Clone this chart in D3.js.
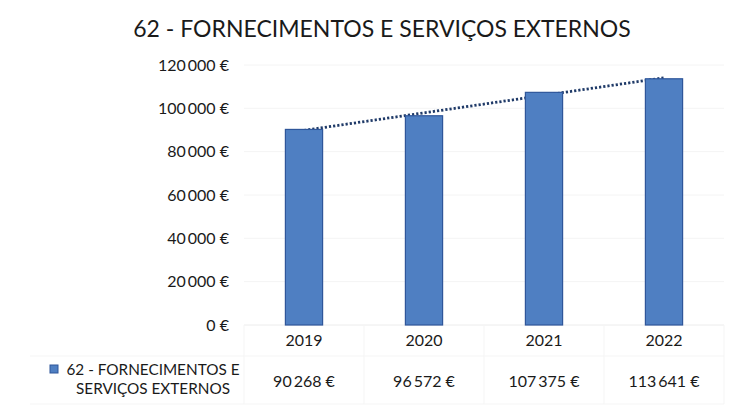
<html>
  <meta charset="utf-8">
  <head>
  <style>
    body { margin: 0; background: #fff; }
    svg text { font-family: Lato, "Open Sans", sans-serif; fill: #1a1a1a; }
  </style>
  </head>
  <body>
    <div id="chart"></div>
    <script src="https://d3js.org/d3.v7.min.js"></script>
    <script>
    'use strict';

    var title = '62 - FORNECIMENTOS E SERVIÇOS EXTERNOS';
    var seriesName = ['62 - FORNECIMENTOS E', 'SERVIÇOS EXTERNOS'];
    var years = ['2019', '2020', '2021', '2022'];
    var values = [90268, 96572, 107375, 113641];
    var yTicks = [0, 20000, 40000, 60000, 80000, 100000, 120000];

    var W = 741, H = 412;
    var svg = d3.select('#chart').append('svg').attr('width', W).attr('height', H);

    var x = d3.scaleBand().domain(years).range([244, 724]).paddingInner(0.69).paddingOuter(0.345);
    var y = d3.scaleLinear().domain([0, 120000]).range([325, 65]);

    function euro(v) {
      return d3.format(',')(v).replace(/,/g, '\u2009') + '\u00a0€';
    }

    svg.append('text')
      .attr('x', 382).attr('y', 37)
      .attr('text-anchor', 'middle')
      .style('font-size', '23px')
      .text(title);

    // faint gridlines
    svg.append('g').selectAll('line').data(yTicks.slice(1)).enter().append('line')
      .attr('x1', 244).attr('x2', 724)
      .attr('y1', function(d) { return y(d); }).attr('y2', function(d) { return y(d); })
      .attr('stroke', '#f4f4f4');

    // y axis labels
    var yAxis = d3.axisLeft(y).tickValues(yTicks).tickFormat(euro).tickSize(0).tickPadding(0);
    var ga = svg.append('g').attr('transform', 'translate(229,0)').call(yAxis);
    ga.select('.domain').remove();
    ga.selectAll('text').style('font-size', '16px').style('font-family', 'Lato, sans-serif').attr('fill', '#1a1a1a');

    // data table lines (very faint)
    var tbl = svg.append('g').attr('stroke', '#f5f5f5');
    tbl.append('line').attr('x1', 244).attr('x2', 724).attr('y1', 325).attr('y2', 325).attr('stroke', '#ececec');
    tbl.append('line').attr('x1', 30).attr('x2', 724).attr('y1', 356).attr('y2', 356);
    tbl.append('line').attr('x1', 30).attr('x2', 724).attr('y1', 404).attr('y2', 404);
    years.forEach(function(d) {
      tbl.append('line').attr('x1', x(d) + x.bandwidth() / 2 + 60).attr('x2', x(d) + x.bandwidth() / 2 + 60)
        .attr('y1', 325).attr('y2', 404);
    });
    tbl.append('line').attr('x1', 244).attr('x2', 244).attr('y1', 325).attr('y2', 404);

    // linear trendline (behind the bars)
    var n = values.length;
    var mx = (n + 1) / 2, my = d3.mean(values);
    var slope = d3.sum(values, function(v, i) { return (i + 1 - mx) * (v - my); }) /
                d3.sum(values, function(v, i) { return (i + 1 - mx) * (i + 1 - mx); });
    var trend = years.map(function(d, i) { return [x(d) + x.bandwidth() / 2, y(my + slope * (i + 1 - mx))]; });
    svg.append('path')
      .attr('d', d3.line()([trend[0], trend[n - 1]]))
      .attr('fill', 'none')
      .attr('stroke', '#1f3a68')
      .attr('stroke-width', 2.8)
      .attr('stroke-dasharray', '2.2,2');

    // bars
    svg.append('g').selectAll('rect').data(values).enter().append('rect')
      .attr('x', function(d, i) { return x(years[i]); })
      .attr('width', x.bandwidth())
      .attr('y', function(d) { return y(d); })
      .attr('height', function(d) { return y(0) - y(d); })
      .attr('fill', '#4f7fc2')
      .attr('stroke', '#2f569a')
      .attr('stroke-width', 1.2);

    // category labels
    svg.append('g').selectAll('text').data(years).enter().append('text')
      .attr('x', function(d) { return x(d) + x.bandwidth() / 2; })
      .attr('y', 346)
      .attr('text-anchor', 'middle')
      .style('font-size', '16px')
      .text(function(d) { return d; });

    // data table values
    svg.append('g').selectAll('text').data(values).enter().append('text')
      .attr('x', function(d, i) { return x(years[i]) + x.bandwidth() / 2; })
      .attr('y', 387)
      .attr('text-anchor', 'middle')
      .style('font-size', '16px')
      .text(euro);

    // legend key + series name
    svg.append('rect').attr('x', 50).attr('y', 365).attr('width', 8).attr('height', 8)
      .attr('fill', '#4f7fc2').attr('stroke', '#2f569a');
    svg.append('g').selectAll('text').data(seriesName).enter().append('text')
      .attr('x', 153).attr('y', function(d, i) { return 375 + i * 19; })
      .attr('text-anchor', 'middle')
      .style('font-size', '15.3px')
      .text(function(d) { return d; });
    </script>
  </body>
</html>
